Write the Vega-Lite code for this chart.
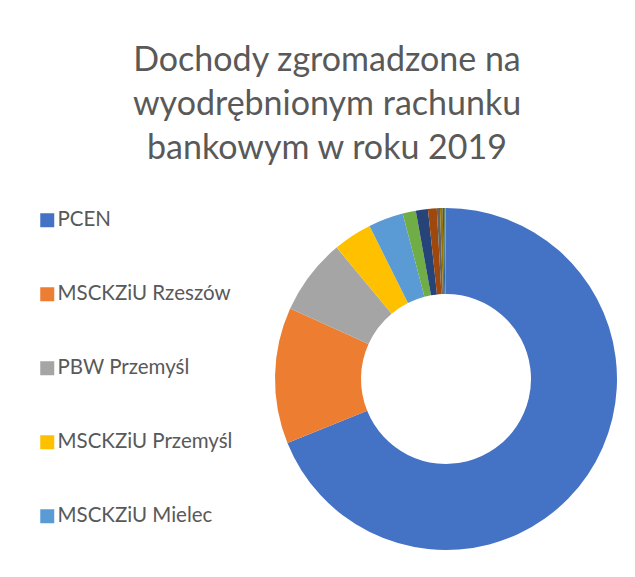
{
  "$schema": "https://vega.github.io/schema/vega-lite/v6.json",
  "autosize": "none",
  "width": 342,
  "height": 342,
  "padding": {"left": 275, "top": 208, "right": 18, "bottom": 27},
  "background": "white",
  "title": {
    "text": ["Dochody zgromadzone na", "wyodrębnionym rachunku", "bankowym w roku 2019"],
    "anchor": "middle",
    "frame": "group",
    "dx": -119,
    "offset": 42,
    "font": "Lato",
    "fontSize": 34,
    "fontWeight": "normal",
    "color": "#595959",
    "lineHeight": 44
  },
  "data": {
    "values": [
      {"k": 1, "jednostka": "PCEN", "udzial": 68.9},
      {"k": 2, "jednostka": "MSCKZiU Rzeszów", "udzial": 12.86},
      {"k": 3, "jednostka": "PBW Przemyśl", "udzial": 7.2},
      {"k": 4, "jednostka": "MSCKZiU Przemyśl", "udzial": 3.67},
      {"k": 5, "jednostka": "MSCKZiU Mielec", "udzial": 3.3},
      {"k": 6, "jednostka": "Jednostka 6", "udzial": 1.25},
      {"k": 7, "jednostka": "Jednostka 7", "udzial": 1.14},
      {"k": 8, "jednostka": "Jednostka 8", "udzial": 0.83},
      {"k": 9, "jednostka": "Jednostka 9", "udzial": 0.3},
      {"k": 10, "jednostka": "Jednostka 10", "udzial": 0.25},
      {"k": 11, "jednostka": "Jednostka 11", "udzial": 0.15},
      {"k": 12, "jednostka": "Jednostka 12", "udzial": 0.1},
      {"k": 13, "jednostka": "Jednostka 13", "udzial": 0.06}
    ]
  },
  "mark": {"type": "arc", "outerRadius": 171, "innerRadius": 85},
  "encoding": {
    "theta": {"field": "udzial", "type": "quantitative", "stack": true},
    "order": {"field": "k", "type": "quantitative"},
    "color": {
      "field": "jednostka",
      "type": "nominal",
      "scale": {
        "domain": ["PCEN", "MSCKZiU Rzeszów", "PBW Przemyśl", "MSCKZiU Przemyśl", "MSCKZiU Mielec", "Jednostka 6", "Jednostka 7", "Jednostka 8", "Jednostka 9", "Jednostka 10", "Jednostka 11", "Jednostka 12", "Jednostka 13"],
        "range": ["#4472C4", "#ED7D31", "#A5A5A5", "#FFC000", "#5B9BD5", "#70AD47", "#264478", "#9E480E", "#636363", "#997300", "#255E91", "#43682B", "#698ED0"]
      },
      "legend": {
        "title": null,
        "orient": "none",
        "legendX": -238,
        "legendY": 2,
        "values": ["PCEN", "MSCKZiU Rzeszów", "PBW Przemyśl", "MSCKZiU Przemyśl", "MSCKZiU Mielec"],
        "symbolType": "square",
        "symbolSize": 196,
        "symbolStrokeWidth": 0,
        "labelFont": "Lato",
        "labelFontSize": 20.5,
        "labelColor": "#595959",
        "labelOffset": 0,
        "rowPadding": 53,
        "labelLimit": 300
      }
    }
  },
  "config": {"view": {"stroke": null}}
}
